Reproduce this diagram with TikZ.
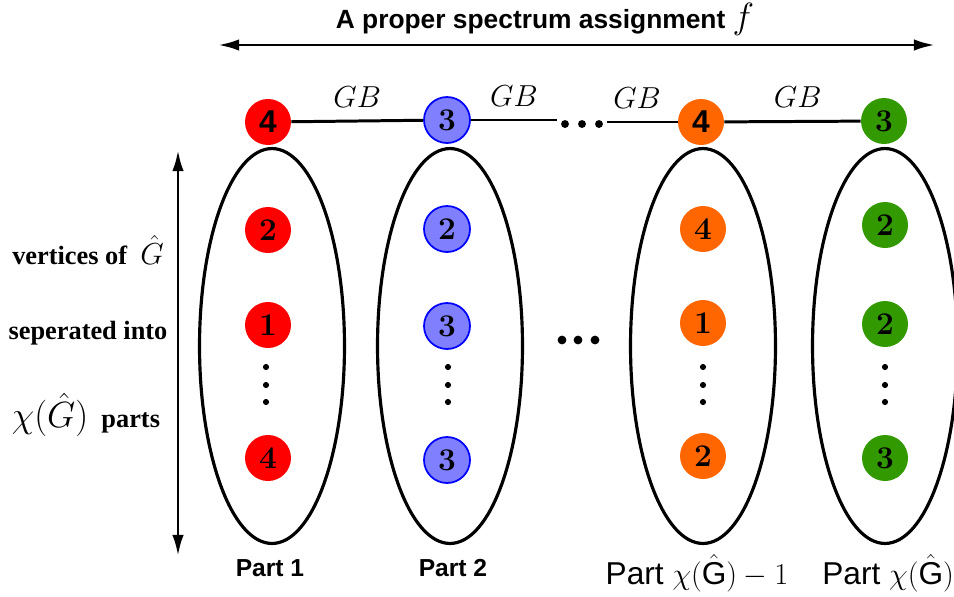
\documentclass[tikz,border=0pt]{standalone}
\usepackage{fontspec}
\setsansfont{Liberation Sans}
\newfontfamily\timesfont{Liberation Serif}
\usetikzlibrary{arrows.meta,shapes.geometric}
\definecolor{cred}{HTML}{FF0000}
\definecolor{cblue}{HTML}{8080FF}
\definecolor{corange}{HTML}{FF6600}
\definecolor{cgreen}{HTML}{339900}
\begin{document}
\begin{tikzpicture}[x=0.02cm,y=-0.02cm,
  vtx/.style={circle, minimum size=0.92cm, inner sep=0pt, font=\fontsize{18}{18}\selectfont\bfseries},
  redv/.style={vtx, fill=cred},
  bluev/.style={vtx, fill=cblue, draw=blue, line width=1pt},
  orangev/.style={vtx, fill=corange},
  greenv/.style={vtx, fill=cgreen},
  partbox/.style={ellipse, draw, line width=1.8pt, minimum width=2.9cm, minimum height=7.9cm, inner sep=0pt},
  dblarrow/.style={{Latex[length=12pt,width=6.5pt]}-{Latex[length=12pt,width=6.5pt]}, line width=1.7pt},
  link/.style={line width=1.7pt},
  gb/.style={midway, above=7pt, font=\fontsize{17.28}{18}\selectfont, inner sep=0pt},
  lefttxt/.style={font=\timesfont\bfseries\fontsize{15}{18}\selectfont, inner sep=0pt},
  partlbl/.style={font=\sffamily\bfseries\fontsize{14}{16}\selectfont, inner sep=0pt},
  partlblbig/.style={font=\sffamily\fontsize{18}{20}\selectfont, inner sep=0pt},
  vdot/.style={circle, fill, inner sep=0pt, minimum size=3.5pt},
  hdot/.style={circle, fill, inner sep=0pt, minimum size=5pt}
]
\useasboundingbox (0,0) rectangle (954,596);

% title and horizontal arrow
\node[font=\sffamily\bfseries\fontsize{15}{18}\selectfont, inner sep=0pt] (title) at (545,19) {A proper spectrum assignment {\fontsize{20.74}{20}\selectfont$f$}};
\coordinate (hl) at (218,45);
\coordinate (hr) at (935,45);
\draw[dblarrow] (hl) -- (hr);

% vertical arrow
\coordinate (vt) at (178,150);
\coordinate (vb) at (178,556);
\draw[dblarrow] (vt) -- (vb);

% ellipses (parts)
\node[partbox] (p1) at (272,346) {};
\node[partbox] (p2) at (450,346) {};
\node[partbox] (p3) at (703,346) {};
\node[partbox] (p4) at (885,346) {};

% top row
\node[redv] (t1) at (268,122) {\sffamily 4};
\node[bluev] (t2) at (447,120) {3};
\node[orangev] (t3) at (701,122) {\sffamily 4};
\node[greenv] (t4) at (884,121) {3};
\node[hdot, minimum size=4.5pt] (td1) at (565,124) {};
\node[hdot, minimum size=4.5pt] (td2) at (582,124) {};
\node[hdot, minimum size=4.5pt] (td3) at (599,124) {};
\coordinate (tdl) at (557,120);
\coordinate (tdr) at (607,122);
\draw[link] (t1) -- node[gb]{$GB$} (t2);
\draw[link] (t2) -- node[gb]{$GB$} (tdl);
\draw[link] (tdr) -- node[gb, xshift=-3pt]{$GB$} (t3);
\draw[link] (t3) -- node[gb, xshift=3pt]{$GB$} (t4);

% part 1
\node[redv] (a1) at (268,230) {2};
\node[redv] (a2) at (268,325) {1};
\node[redv] (a3) at (268,458) {4};
% part 2
\node[bluev] (b1) at (447,229) {2};
\node[bluev] (b2) at (447,326) {3};
\node[bluev] (b3) at (447,460) {3};
% part chi-1
\node[orangev] (c1) at (703,229) {4};
\node[orangev] (c2) at (703,323) {1};
\node[orangev] (c3) at (703,456) {2};
% part chi
\node[greenv] (d1) at (885,225) {2};
\node[greenv] (d2) at (885,324) {2};
\node[greenv] (d3) at (885,458) {3};

% vertical dots
\foreach \x/\n in {266/a,448/b,703/c,885/d}{
  \node[vdot] (\n dot1) at (\x,367) {};
  \node[vdot] (\n dot2) at (\x,385) {};
  \node[vdot] (\n dot3) at (\x,402) {};
}
% middle dots
\node[hdot] (m1) at (562,340) {};
\node[hdot] (m2) at (578,340) {};
\node[hdot] (m3) at (595,340) {};

% left text
\node[lefttxt] (l1) at (88,250) {vertices of\ \ {\fontsize{17.28}{18}\selectfont$\hat{G}$}};
\node[lefttxt] (l2) at (88,333) {seperated into};
\node[lefttxt] (l3) at (86,415) {{\fontsize{20.74}{22}\selectfont$\chi(\hat{G})$}\ \ parts};

% bottom labels
\node[partlbl] (q1) at (270,568) {Part 1};
\node[partlbl] (q2) at (453,568) {Part 2};
\node[partlblbig] (q3) at (697,573) {Part\ $\chi(\hat{\mathsf{G}})-1$};
\node[partlblbig, anchor=west] (q4) at (822,573) {Part\ $\chi(\hat{\mathsf{G}})$};
\end{tikzpicture}
\end{document}
